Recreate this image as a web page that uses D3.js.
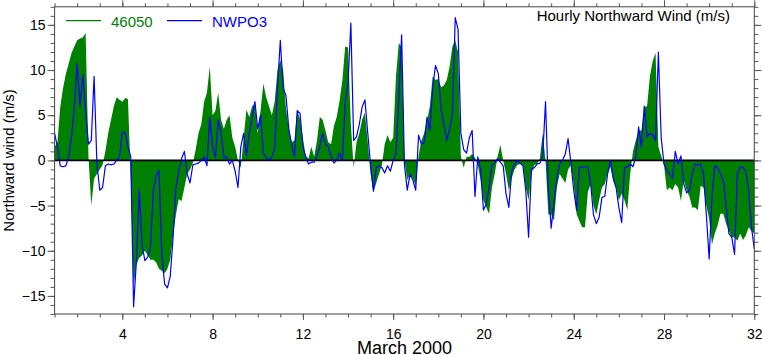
<!DOCTYPE html>
<html><head><meta charset="utf-8">
<script src="https://cdn.jsdelivr.net/npm/d3@7"></script>
<style>
body{margin:0;background:#fff}
svg{display:block}
text{font-family:"Liberation Sans",Arial,Helvetica,sans-serif}
</style>
</head><body>
<svg id="chart" width="762" height="355"></svg>
<script>
// ---- data: 3-hourly samples starting 1 March 2000 00h (day 1.0) ----
const startDay = 1;
const stepDays = 0.125;
const buoy46050 = [
1.5,2.0,5.9,8.0,9.6,10.7,11.9,12.6,13.3,13.5,13.6,14.1,0.5,-5.0,-2.0,-1.5,
-1.0,-0.5,1.0,3.0,4.5,6.0,7.0,6.7,6.5,6.9,6.8,-2.0,-14.0,-11.5,-10.8,-10.5,
-10.0,-10.5,-11.0,-11.0,-11.3,-12.0,-12.2,-12.5,-12.0,-11.0,-8.3,-6.0,-4.3,-4.5,-3.0,-1.5,
-1.0,-0.3,1.2,3.0,4.0,6.5,7.5,10.4,5.0,5.5,7.5,4.5,3.5,4.5,5.0,2.5,
1.5,0.0,-0.8,2.5,5.6,4.8,6.0,6.3,3.0,5.5,8.5,7.0,6.0,5.0,6.5,10.0,
11.1,10.0,5.8,3.5,2.0,2.2,5.6,4.5,2.5,0.5,0.2,1.5,0.4,2.2,4.8,4.5,
3.3,2.0,1.8,3.8,4.8,6.6,8.9,12.6,12.5,4.0,-0.8,2.0,3.0,4.5,5.3,2.0,
-1.5,-3.5,-2.5,-1.5,-0.5,1.8,2.8,2.0,2.5,9.3,13.0,12.5,0.0,-2.2,-1.5,-2.0,
-2.8,0.5,2.2,3.0,4.4,6.0,9.3,8.9,9.0,8.1,8.3,8.9,10.4,12.6,13.3,12.0,
0.5,-0.8,0.4,0.4,0.7,0.3,-0.5,-2.2,-4.4,-5.2,-5.9,-3.0,-1.5,0.4,1.7,0.0,
-1.5,-3.3,-2.0,-1.0,-0.5,-0.4,-0.5,-3.0,-4.4,-1.5,-0.5,-0.4,0.2,3.0,0.0,-6.0,
-6.0,-6.7,-3.0,-1.5,-2.0,-2.5,-1.0,-0.5,-2.6,-5.9,-6.7,-7.4,-7.4,-3.5,-2.6,-5.0,
-6.0,-4.4,-3.0,-2.6,-1.5,-0.7,-2.2,-3.0,-4.4,-3.7,-4.4,-5.5,-1.5,1.0,2.2,3.3,
3.3,5.9,6.0,9.3,11.0,11.9,1.5,0.5,-0.5,-3.3,-3.0,-3.3,-2.6,-3.0,-4.5,-2.2,
-3.3,-4.0,-5.2,-5.2,-5.5,-2.8,-3.0,-5.0,-6.5,-9.3,-8.1,-7.2,-5.9,-5.9,-7.0,-7.8,
-8.5,-8.5,-8.9,-8.1,-8.8,-8.3,-7.4,-7.8,-8.1
];
const nwpo3 = [
3.0,1.5,-0.6,-0.7,-0.6,0.4,2.6,5.9,10.7,6.0,9.5,5.5,1.8,2.2,9.3,-0.4,
-3.3,-3.0,-0.6,-0.4,-0.5,-0.4,0.0,0.4,3.1,3.1,1.5,0.4,-16.2,-11.1,-3.3,-9.3,
-11.1,-10.7,-9.6,-3.3,-1.7,-1.1,-10.4,-13.7,-14.1,-12.8,-8.5,-3.0,-1.2,0.2,1.0,-1.5,
-2.5,-0.5,-0.4,-0.3,0.0,0.4,-0.6,4.8,1.5,0.3,4.5,3.0,0.3,0.4,-0.4,0.0,
-1.2,-3.0,1.5,3.0,0.5,3.0,4.8,6.5,3.5,5.0,0.8,0.3,0.0,0.4,1.3,8.0,
13.3,8.0,7.2,3.5,1.8,0.4,5.5,5.2,1.5,0.4,-0.4,-0.2,-0.2,0.5,1.5,3.0,
1.8,1.5,0.4,-0.3,0.0,0.8,0.0,6.5,8.5,15.2,2.2,2.6,4.0,5.9,6.7,3.0,
-0.5,-3.4,-0.8,-0.6,-0.8,-1.4,-0.6,-1.2,0.0,0.7,7.0,13.9,-0.5,-3.3,-1.5,-2.2,
-3.3,2.8,1.8,2.0,4.8,3.3,8.0,10.5,9.6,5.6,4.0,2.2,3.5,5.0,15.8,14.5,
3.0,1.2,0.8,2.5,3.3,-4.0,0.4,-1.0,-5.5,-4.8,-3.0,-0.5,-0.3,0.2,-0.2,-0.6,
-3.7,-5.2,-1.2,-0.4,0.0,-0.3,-0.6,-3.3,-8.5,-1.0,-0.8,-0.4,-0.3,0.5,6.5,-3.0,
-7.5,-4.6,-2.0,-0.4,0.0,0.7,2.4,-0.3,-3.3,-5.5,-0.8,-0.7,-0.7,-0.7,-2.6,-6.0,
-7.0,-6.3,-4.1,-4.0,-1.5,0.0,-2.0,-3.0,-5.2,-6.9,-0.8,-0.7,-0.4,-0.7,0.4,3.7,
1.5,6.0,2.6,3.0,2.8,2.2,12.0,2.5,-0.4,-1.1,-1.5,-2.0,1.0,-0.4,0.5,-2.6,
-3.6,-3.3,-1.5,-0.4,-0.5,-0.4,-1.5,-6.0,-10.9,-4.0,-0.6,-0.8,-1.5,-2.2,-5.0,-8.1,
-8.5,-10.4,-1.5,-0.7,-0.8,-1.2,-3.3,-7.4,-9.8
];
const xTickLabels = [4, 8, 12, 16, 20, 24, 28, 32];
const yTickLabels = [-15, -10, -5, 0, 5, 10, 15];
const seriesNames = ["46050", "NWPO3"];
const seriesColors = ["#008000", "#0000ff"];
const titleText = "Hourly Northward Wind (m/s)";
const xTitle = "March 2000";
const yTitle = "Northward wind (m/s)";

// ---- layout ----
const L = 54.6, R = 754.3, T = 6.8, B = 314;
const svg = d3.select("#chart");
const x = d3.scaleLinear().domain([1, 32]).range([L, R]);
const y = d3.scaleLinear().domain([-17, 17]).range([B, T]);

const rowsA = buoy46050.map((v, i) => ({t: startDay + i * stepDays, v}));
const rowsB = nwpo3.map((v, i) => ({t: startDay + i * stepDays, v}));

svg.append("defs").append("clipPath").attr("id", "clip")
  .append("rect").attr("x", L).attr("y", T).attr("width", R - L).attr("height", B - T);

const plot = svg.append("g").attr("clip-path", "url(#clip)");

plot.append("path").datum(rowsA)
  .attr("fill", seriesColors[0])
  .attr("d", d3.area().x(d => x(d.t)).y0(y(0)).y1(d => y(d.v)));

plot.append("line")
  .attr("x1", L).attr("x2", R).attr("y1", y(0)).attr("y2", y(0))
  .attr("stroke", "#000").attr("stroke-width", 1.6);

plot.append("path").datum(rowsB)
  .attr("fill", "none").attr("stroke", seriesColors[1]).attr("stroke-width", 1.2)
  .attr("stroke-linejoin", "round")
  .attr("d", d3.line().x(d => x(d.t)).y(d => y(d.v)));

// ---- axes ----
const dayTicks = d3.range(1, 33);
const unitTicks = d3.range(-17, 18);
function style(g) {
  g.select(".domain").remove();
  g.selectAll("line").attr("stroke", "#555");
  g.selectAll("text").attr("fill", "#000").style("font-size", "14px");
}
// bottom
svg.append("g").attr("transform", `translate(0,${B})`)
  .call(d3.axisBottom(x).tickValues(dayTicks).tickSize(3.5).tickFormat(""))
  .call(style);
svg.append("g").attr("transform", `translate(0,${B})`)
  .call(d3.axisBottom(x).tickValues(xTickLabels).tickSize(6).tickPadding(9).tickFormat(d3.format("d")))
  .call(style);
// top
svg.append("g").attr("transform", `translate(0,${T})`)
  .call(d3.axisTop(x).tickValues(dayTicks).tickSize(3.5).tickFormat(""))
  .call(style);
svg.append("g").attr("transform", `translate(0,${T})`)
  .call(d3.axisTop(x).tickValues(xTickLabels).tickSize(6.5).tickFormat(""))
  .call(style);
// left
svg.append("g").attr("transform", `translate(${L},0)`)
  .call(d3.axisLeft(y).tickValues(unitTicks).tickSize(4).tickFormat(""))
  .call(style);
svg.append("g").attr("transform", `translate(${L},0)`)
  .call(d3.axisLeft(y).tickValues(yTickLabels).tickSize(7).tickPadding(2).tickFormat(d3.format("d")))
  .call(style);
// right
svg.append("g").attr("transform", `translate(${R},0)`)
  .call(d3.axisRight(y).tickValues(unitTicks).tickSize(4).tickFormat(""))
  .call(style);
svg.append("g").attr("transform", `translate(${R},0)`)
  .call(d3.axisRight(y).tickValues(yTickLabels).tickSize(7).tickFormat(""))
  .call(style);

// frame
svg.append("rect").attr("x", L).attr("y", T).attr("width", R - L).attr("height", B - T)
  .attr("fill", "none").attr("stroke", "#444").attr("stroke-width", 1);

// titles
svg.append("text").attr("x", (L + R) / 2).attr("y", 354).attr("text-anchor", "middle")
  .style("font-size", "18px").text(xTitle);
svg.append("text").attr("transform", `translate(14,${(T + B) / 2}) rotate(-90)`)
  .attr("text-anchor", "middle").style("font-size", "15px").text(yTitle);
svg.append("text").attr("x", 730).attr("y", 21).attr("text-anchor", "end")
  .style("font-size", "15px").text(titleText);

// legend
const legendX = [66, 167];
seriesNames.forEach((name, i) => {
  svg.append("line").attr("x1", legendX[i]).attr("x2", legendX[i] + 35)
    .attr("y1", 20.7).attr("y2", 20.7).attr("stroke", seriesColors[i]).attr("stroke-width", 1.2);
  svg.append("text").attr("x", legendX[i] + 45).attr("y", 26.5)
    .attr("fill", seriesColors[i]).style("font-size", "15px").text(name);
});
</script>
</body></html>
